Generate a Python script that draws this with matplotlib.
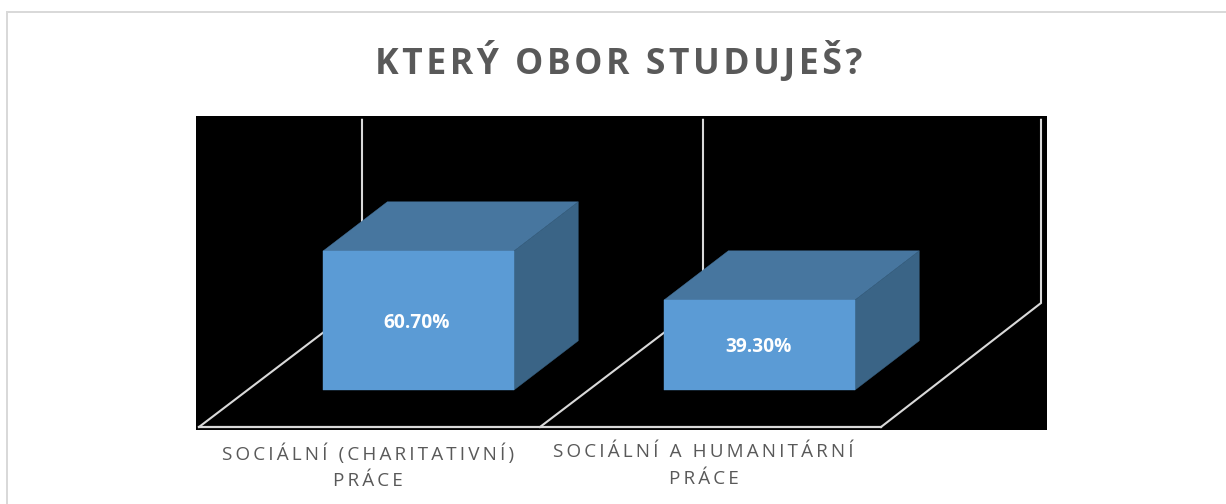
import matplotlib
matplotlib.use("Agg")
import matplotlib.pyplot as plt
from matplotlib.patches import Polygon, Rectangle

plt.rcParams['font.family'] = ['Open Sans', 'DejaVu Sans']

TITLE = "KTERÝ OBOR STUDUJEŠ?"
categories = ["SOCIÁLNÍ (CHARITATIVNÍ)\nPRÁCE", "SOCIÁLNÍ A HUMANITÁRNÍ\nPRÁCE"]
values = [60.7, 39.3]
value_labels = ["60.70%", "39.30%"]
axis_max = 80

W, H = 1226, 504
FRONT = "#5B9BD5"
TOP = "#47769F"
SIDE = "#3A6486"
GRID = "#D9D9D9"
TEXT = "#595959"

# px per category / per percent point
PX_CAT = 341
PX_VAL = 2.29
# how far the back of the floor is shifted from the front
DEPTH_X = 162 / PX_CAT
DEPTH_Y = 124 / PX_VAL
# the last wall sits a bit closer in the original
WALL_DX = [163 / PX_CAT, 163 / PX_CAT, 160 / PX_CAT]


def proj(cat, depth, val):
    return cat + depth * DEPTH_X, val + depth * DEPTH_Y


def spaced(s, sep="\u2009"):
    # letter spacing, the font has no setting for it
    return "\n".join(sep.join(line) for line in s.split("\n"))


fig = plt.figure(figsize=(W / 100, H / 100), dpi=100, facecolor="white")

# outer chart border
fig.add_artist(Rectangle((7 / W, -0.1), 1.2, 1.1 - 12 / H, transform=fig.transFigure,
                         fill=False, edgecolor=GRID, linewidth=1.44))

ax = fig.add_axes([196 / W, 1 - 430 / H, 851 / W, 314 / H], facecolor="black")
ax.set_xlim(-3 / PX_CAT, 848 / PX_CAT)
ax.set_ylim(-3 / PX_VAL, 311 / PX_VAL)
for s in ax.spines.values():
    s.set_visible(False)
ax.set_yticks([])

# floor and walls
n = len(categories)
ax.plot([0, n], [0, 0], color=GRID, lw=1.6, zorder=1)
for i in range(n + 1):
    x1 = i + WALL_DX[i]
    ax.plot([i, x1, x1], [0, DEPTH_Y, DEPTH_Y + axis_max], color=GRID, lw=1.5, zorder=1,
            solid_joinstyle="miter")

# 3d boxes
bar_start = 0.222
bar_w = 0.56
d0, d1 = 0.298, 0.695
for i, v in enumerate(values):
    a = i + bar_start
    b = a + bar_w
    ax.add_patch(Polygon([proj(a, d0, v), proj(b, d0, v), proj(b, d1, v), proj(a, d1, v)],
                         facecolor=TOP, edgecolor=TOP, lw=0.3, zorder=2))
    ax.add_patch(Polygon([proj(b, d0, 0), proj(b, d1, 0), proj(b, d1, v), proj(b, d0, v)],
                         facecolor=SIDE, edgecolor=SIDE, lw=0.3, zorder=2))
    ax.add_patch(Polygon([proj(a, d0, 0), proj(b, d0, 0), proj(b, d0, v), proj(a, d0, v)],
                         facecolor=FRONT, edgecolor=FRONT, lw=0.3, zorder=3))
    cx, cy = proj((a + b) / 2, d0, v / 2)
    ax.annotate(value_labels[i], (cx, cy), xytext=(-1, -1.5), textcoords="offset points",
                color="white", fontsize=13.8, fontweight="bold",
                ha="center", va="center", zorder=4)

ax.set_xticks([0.495, 1.48], [spaced(c) for c in categories])
ax.tick_params(axis="x", length=0, pad=9.5, labelsize=13.6, labelcolor=TEXT)
for lab in ax.get_xticklabels():
    lab.set_linespacing(1.62)

fig.text(619 / W, 1 - 74 / H, spaced(TITLE, "\u200a"), color=TEXT, fontsize=25.6, fontweight="bold",
         ha="center", va="baseline")

fig.savefig("out.png", dpi=100)
